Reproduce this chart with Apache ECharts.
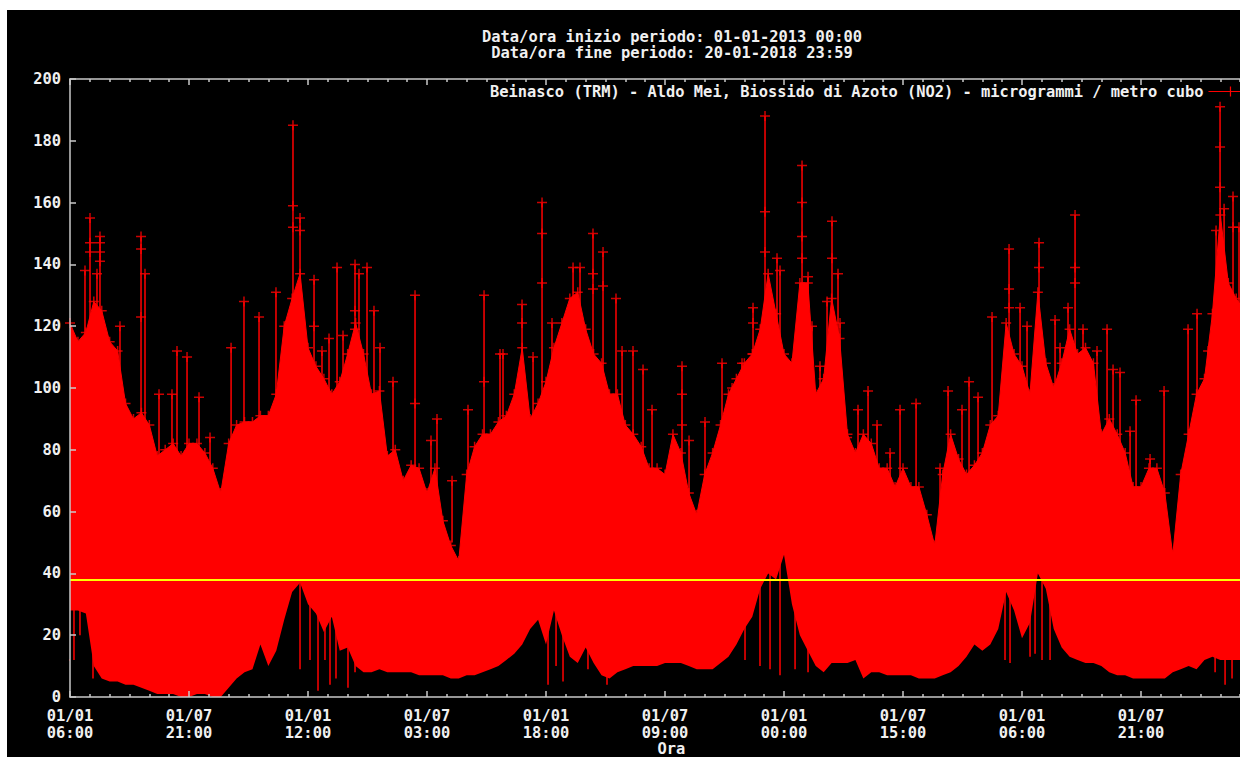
<!DOCTYPE html>
<html>
<head>
<meta charset="utf-8">
<title>Beinasco (TRM) - NO2</title>
<script src="https://cdn.jsdelivr.net/npm/echarts@6/dist/echarts.min.js"></script>
<style>
  html, body { margin: 0; padding: 0; background: #fff; }
  #chart { position: absolute; left: 7px; top: 10px; width: 1233px; height: 747px; background: #000; }
</style>
</head>
<body>
<div id="chart"></div>
<script>
// ---- testi ----
const titleLines = [
  'Data/ora inizio periodo: 01-01-2013 00:00',
  'Data/ora fine periodo: 20-01-2018 23:59'
];
const seriesName = 'Beinasco (TRM) - Aldo Mei, Biossido di Azoto (NO2) - microgrammi / metro cubo';
const xName = 'Ora';

// ---- asse x: giorni dal 01/01/2013 06:00, un tick ogni mezzo anno ----
const TICK_DAYS = 182.625;
const X_MAX = 1845.7;
const tickLabels = [
  '01/01\n06:00', '01/07\n21:00', '01/01\n12:00', '01/07\n03:00',
  '01/01\n18:00', '01/07\n09:00', '01/01\n00:00', '01/07\n15:00',
  '01/01\n06:00', '01/07\n21:00'
];

// soglia (linea gialla)
const limitValue = 38;

// ---- inviluppo dei dati orari, un campione ogni 1/15 di semestre ----
const BODY_STEP = TICK_DAYS / 15;
const bodyTop = [
  121, 115, 118, 128, 125, 115, 112, 95, 90, 92,
  88, 78, 80, 82, 78, 82, 82, 79, 74, 66,
  82, 88, 89, 89, 91, 91, 98, 120, 129, 137,
  113, 107, 103, 98, 102, 111, 121, 111, 98, 99,
  78, 80, 70, 75, 74, 66, 74, 57, 49, 44,
  72, 81, 85, 85, 89, 91, 98, 113, 90, 95,
  102, 113, 121, 129, 131, 119, 111, 108, 98, 98,
  88, 85, 81, 74, 74, 72, 85, 79, 66, 59,
  72, 79, 88, 98, 103, 108, 111, 119, 137, 124,
  111, 108, 134, 134, 98, 103, 129, 116, 85, 79,
  85, 82, 74, 74, 68, 74, 68, 68, 59, 49,
  72, 85, 77, 72, 75, 79, 88, 91, 121, 111,
  107, 98, 131, 108, 100, 108, 119, 111, 113, 108,
  85, 90, 85, 79, 68, 68, 74, 74, 66, 46,
  72, 85, 98, 103, 124, 156, 134, 129, 125, 120, 115, 110
];
const bodyLow = [
  28, 28, 27, 10, 6, 5, 5, 4, 4, 3,
  2, 1, 1, 1, 0, 0, 1, 1, 0, 0,
  3, 6, 8, 9, 17, 10, 15, 25, 34, 37,
  30, 27, 21, 26, 15, 16, 10, 8, 8, 9,
  8, 8, 8, 8, 7, 7, 7, 7, 6, 6,
  7, 7, 8, 9, 10, 12, 14, 17, 22, 25,
  17, 28, 20, 13, 11, 16, 11, 7, 6, 8,
  9, 10, 10, 10, 10, 11, 11, 11, 10, 9,
  9, 9, 11, 13, 17, 22, 26, 35, 40, 38,
  46, 30, 20, 15, 10, 8, 11, 11, 11, 12,
  6, 8, 8, 7, 7, 7, 7, 6, 6, 6,
  7, 8, 10, 13, 17, 15, 17, 22, 34, 28,
  19, 24, 40, 35, 22, 16, 13, 12, 11, 11,
  10, 8, 7, 7, 6, 6, 6, 6, 6, 8,
  9, 10, 9, 12, 13, 12, 12, 12, 12, 10, 8, 8
];

// picchi isolati [giorno, valore]
const peaks = [
  [23.0, 138], [30.7, 155], [41.4, 137], [46.0, 149], [76.7, 120], [109.0, 149], [115.1, 137], [136.6, 98], [156.5, 98], [164.2, 112],
  [179.6, 110], [198.0, 97], [214.9, 84], [247.2, 113], [267.0, 128], [290.1, 123], [316.1, 131], [342.2, 185], [353.0, 155], [374.5, 135],
  [386.7, 112], [397.5, 116], [409.8, 139], [419.0, 117], [437.4, 140], [443.5, 137], [455.8, 139], [466.5, 125], [475.8, 113], [495.7, 102],
  [529.5, 130], [554.0, 83], [563.2, 90], [586.3, 70], [610.8, 93], [635.4, 130], [659.9, 111], [664.5, 111], [693.7, 127], [710.6, 110],
  [724.4, 160], [739.7, 121], [772.0, 139], [782.7, 139], [802.6, 150], [818.0, 144], [837.9, 129], [847.2, 112], [864.0, 112], [879.4, 106],
  [893.2, 93], [939.2, 107], [950.0, 83], [974.5, 89], [1000.6, 108], [1016.0, 100], [1031.3, 108], [1048.2, 126], [1066.6, 188], [1085.0, 142],
  [1089.6, 138], [1123.4, 172], [1132.6, 136], [1138.7, 120], [1151.0, 107], [1161.8, 128], [1169.4, 154], [1178.6, 137], [1181.7, 121], [1192.5, 84],
  [1209.3, 93], [1224.7, 99], [1238.5, 88], [1258.5, 79], [1273.8, 93], [1298.4, 95], [1335.2, 74], [1347.5, 99], [1368.9, 93], [1379.7, 102],
  [1393.5, 97], [1415.0, 123], [1441.1, 145], [1458.0, 126], [1468.7, 120], [1487.1, 147], [1511.7, 122], [1519.4, 113], [1531.6, 126], [1542.4, 156],
  [1554.6, 119], [1576.1, 112], [1591.5, 119], [1600.7, 106], [1611.4, 105], [1626.8, 86], [1636.0, 96], [1657.5, 77], [1679.0, 99], [1715.8, 119],
  [1729.6, 124], [1746.5, 112], [1758.8, 151], [1764.9, 191], [1771.1, 158], [1784.8, 162], [1794.0, 152]
];

// altri punti orari visibili lungo i picchi [giorno, valore]
const extraMarks = [
  [30.7, 147], [30.7, 144], [46.0, 147], [46.0, 144], [46.0, 141], [109.0, 145], [109.0, 123],
  [342.2, 159], [342.2, 152], [353.0, 151], [374.5, 120], [437.4, 125], [437.4, 119],
  [724.4, 150], [724.4, 134], [802.6, 137], [802.6, 132], [818.0, 133], [529.5, 95], [635.4, 102], [693.7, 121],
  [1066.6, 157], [1066.6, 144], [1123.4, 160], [1123.4, 149], [1123.4, 142], [1169.4, 142], [1048.2, 121], [1048.2, 111],
  [939.2, 98], [939.2, 88], [1764.9, 178], [1764.9, 165], [1542.4, 139], [1542.4, 134], [1487.1, 139],
  [1441.1, 132], [1441.1, 126], [1784.8, 152]
];

// minimi isolati [giorno, valore]
const dips = [
  [6.1, 12], [15.3, 20], [35.3, 6], [46.0, 10], [353.0, 9], [368.3, 12], [380.6, 2], [391.3, 12], [399.0, 4], [408.2, 6],
  [426.6, 3], [437.4, 8], [733.6, 4], [745.9, 10], [756.6, 5], [775.0, 12], [794.9, 9], [813.4, 9], [824.1, 4], [1035.9, 12],
  [1058.9, 10], [1074.3, 9], [1089.6, 7], [1112.7, 9], [1132.6, 8], [1434.9, 12], [1442.6, 11], [1473.3, 13], [1481.0, 14], [1491.7, 12],
  [1504.0, 12], [1757.3, 8], [1772.6, 4], [1783.3, 6]
];

// ---- stile ----
const RED = '#ff0000';
const AXIS_COLOR = '#c8c8c8';
const TEXT_COLOR = '#f0f0f0';
const FONT = "'DejaVu Sans Mono', 'Liberation Mono', monospace";
const FONT_SIZE = 15.4;
const SPIKE_BASE = 50;
const PLUS = 'path://M0,4.25H10V5.75H0Z M4.25,0H5.75V10H4.25Z';
const LEGEND_ICON = 'path://M0,4.4H44V5.6H0Z M21.4,0H22.6V10H21.4Z';

// ---- dati per le serie ----
const topData = bodyTop.map((v, i) => [i * BODY_STEP, v]);
const lowData = bodyLow.map((v, i) => [i * BODY_STEP, v]);
const spikeData = [];
peaks.concat(dips).forEach(([d, v]) => {
  spikeData.push([d, SPIKE_BASE], [d, v], [d, '-']);
});
const markerData = peaks.concat(extraMarks, dips, topData);

const chart = echarts.init(document.getElementById('chart'), null, { renderer: 'svg' });

const axisLineStyle = { color: AXIS_COLOR, width: 1.5 };
const labelFont = { color: TEXT_COLOR, fontFamily: FONT, fontWeight: 'bold', fontSize: FONT_SIZE };

const xAxisBase = {
  type: 'value',
  min: 0,
  max: X_MAX,
  interval: TICK_DAYS,
  z: 5,
  axisLine: { show: true, lineStyle: axisLineStyle },
  axisTick: { show: true, inside: true, length: 6, lineStyle: axisLineStyle },
  minorTick: { show: true, splitNumber: 6, length: 3, lineStyle: axisLineStyle },
  splitLine: { show: false },
  minorSplitLine: { show: false }
};

const option = {
  backgroundColor: '#000',
  animation: false,
  title: {
    text: titleLines.join('\n'),
    left: 660,
    top: 14,
    textAlign: 'center',
    textStyle: Object.assign({ lineHeight: 16 }, labelFont)
  },
  legend: {
    left: 478,
    top: 69,
    align: 'right',
    itemWidth: 44,
    itemHeight: 10,
    selectedMode: false,
    data: [{ name: seriesName, icon: LEGEND_ICON, itemStyle: { color: RED } }],
    textStyle: labelFont
  },
  grid: { left: 63, top: 69, bottom: 60, right: -32.7, outerBoundsMode: 'none', containLabel: false },
  xAxis: [
    Object.assign({}, xAxisBase, {
      position: 'bottom',
      name: xName,
      nameLocation: 'middle',
      nameGap: 45,
      nameMoveOverlap: false,
      nameTextStyle: Object.assign({ lineHeight: 14, verticalAlign: 'top' }, labelFont),
      axisLabel: Object.assign({
        lineHeight: 17,
        margin: 10,
        showMaxLabel: false,
        formatter: (v) => {
          const k = Math.round(v / TICK_DAYS);
          if (Math.abs(v - k * TICK_DAYS) > 0.01) return '';
          return tickLabels[k] || '';
        }
      }, labelFont)
    }),
    Object.assign({}, xAxisBase, {
      position: 'top',
      axisLabel: { show: false }
    })
  ],
  yAxis: {
    type: 'value',
    min: 0,
    max: 200,
    interval: 20,
    z: 5,
    axisLine: { show: true, lineStyle: axisLineStyle },
    axisTick: { show: true, inside: true, length: 6, lineStyle: axisLineStyle },
    splitLine: { show: false },
    axisLabel: Object.assign({ margin: 9 }, labelFont)
  },
  series: [
    {
      // corpo rosso fino al bordo superiore dell'inviluppo
      name: seriesName,
      type: 'line',
      data: topData,
      symbol: 'none',
      color: RED,
      lineStyle: { color: RED, width: 1 },
      areaStyle: { color: RED, opacity: 1 },
      silent: true
    },
    {
      // zona nera sotto il minimo dell'inviluppo
      name: 'fondo',
      type: 'line',
      data: lowData,
      symbol: 'none',
      lineStyle: { width: 0, opacity: 0 },
      areaStyle: { color: '#000', opacity: 1 },
      silent: true
    },
    {
      name: seriesName,
      type: 'line',
      data: spikeData,
      symbol: 'none',
      color: RED,
      connectNulls: false,
      lineStyle: { color: RED, width: 1.5 },
      silent: true
    },
    {
      name: seriesName,
      type: 'scatter',
      data: markerData,
      symbol: PLUS,
      symbolSize: 10,
      color: RED,
      itemStyle: { color: RED },
      silent: true
    },
    {
      name: 'limite',
      type: 'line',
      data: [],
      z: 10,
      markLine: {
        silent: true,
        symbol: 'none',
        label: { show: false },
        lineStyle: { color: '#ffff00', width: 2, type: 'solid' },
        data: [{ yAxis: limitValue }]
      }
    }
  ]
};

chart.setOption(option);
</script>
</body>
</html>
